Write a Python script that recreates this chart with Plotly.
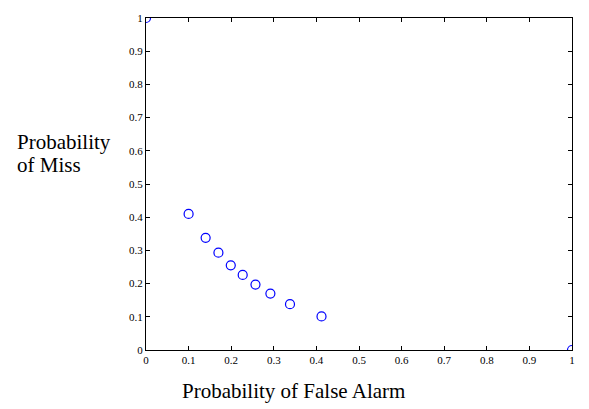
import plotly.graph_objects as go

# Operating points: false alarm probability vs miss probability
p_false_alarm = [0.0, 0.100, 0.140, 0.170, 0.199, 0.227, 0.257, 0.292, 0.338, 0.412, 1.0]
p_miss = [1.0, 0.410, 0.338, 0.293, 0.255, 0.226, 0.197, 0.170, 0.138, 0.101, 0.0]

tick_vals = [0, 0.1, 0.2, 0.3, 0.4, 0.5, 0.6, 0.7, 0.8, 0.9, 1]
tick_text = ["0", "0.1", "0.2", "0.3", "0.4", "0.5", "0.6", "0.7", "0.8", "0.9", "1"]

FONT = "Liberation Serif, Times New Roman, serif"

L, R, T, B = 146, 16.5, 14.5, 58.5
W, H = 589, 409
PW, PH = W - L - R, H - T - B


def px_to_paper_x(px):
    return (px - L) / PW


def px_to_paper_y(py):
    return (H - B - py) / PH


fig = go.Figure(
    go.Scatter(
        x=p_false_alarm,
        y=p_miss,
        mode="markers",
        marker=dict(symbol="circle-open", size=9, color="#0000ff", line=dict(width=1.2)),
        cliponaxis=True,
        showlegend=False,
    )
)

axis_common = dict(
    range=[0, 1],
    tickvals=tick_vals,
    ticktext=tick_text,
    ticks="inside",
    ticklen=4,
    tickwidth=1,
    tickcolor="black",
    showline=True,
    linecolor="black",
    linewidth=1,
    mirror="ticks",
    showgrid=False,
    zeroline=False,
    tickfont=dict(family=FONT, size=11, color="black"),
)

fig.update_xaxes(**axis_common)
fig.update_yaxes(**axis_common)

label_font = dict(family=FONT, size=21, color="black")

fig.update_layout(
    width=W,
    height=H,
    margin=dict(l=L, r=R, t=T, b=B),
    paper_bgcolor="white",
    plot_bgcolor="white",
    font=dict(family=FONT, color="black"),
    annotations=[
        dict(
            text="Probability of False Alarm",
            xref="paper", yref="paper",
            x=px_to_paper_x(180), y=px_to_paper_y(392),
            xanchor="left", yanchor="middle",
            showarrow=False,
            font=label_font,
        ),
        dict(
            text="Probability",
            xref="paper", yref="paper",
            x=px_to_paper_x(16), y=px_to_paper_y(140),
            xanchor="left", yanchor="middle",
            showarrow=False,
            borderpad=0,
            font=label_font,
        ),
        dict(
            text="of Miss",
            xref="paper", yref="paper",
            x=px_to_paper_x(16), y=px_to_paper_y(163),
            xanchor="left", yanchor="middle",
            showarrow=False,
            borderpad=0,
            font=label_font,
        ),
    ],
)

fig.write_html("out.html")
